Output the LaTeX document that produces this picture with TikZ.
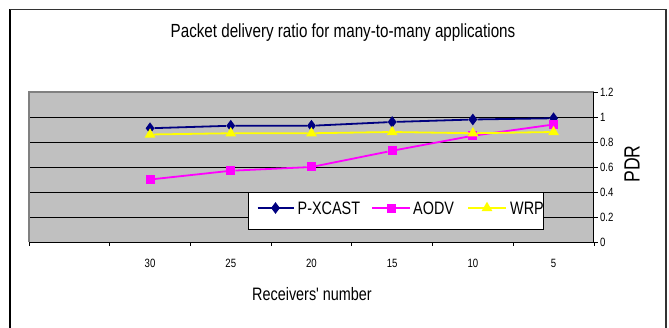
\documentclass[tikz,border=0pt]{standalone}
\usepackage{fontspec}
\setmainfont{Liberation Sans}
\usetikzlibrary{shapes.geometric,positioning}
\definecolor{navy}{RGB}{0,0,128}
\definecolor{pink}{RGB}{255,0,255}
\definecolor{lemon}{RGB}{255,255,0}
\definecolor{plotgray}{RGB}{192,192,192}
\definecolor{edgegray}{RGB}{128,128,128}
\newcommand{\nar}[1]{\scalebox{0.8}[1]{#1}}
\tikzset{
  xcastline/.style={draw=navy, line width=1.8pt},
  aodvline/.style={draw=pink, line width=1.8pt},
  wrpline/.style={draw=lemon, line width=1.8pt},
  xcastmark/.style={diamond, fill=navy, inner sep=0pt, minimum width=9pt, minimum height=12pt},
  aodvmark/.style={rectangle, fill=pink, inner sep=0pt, minimum size=9pt},
  wrpmark/.style={regular polygon, regular polygon sides=3, fill=lemon, inner sep=0pt, minimum size=12.5pt},
  ticklabel/.style={font=\fontsize{12}{14}\selectfont, inner sep=0pt},
  legtext/.style={font=\fontsize{18}{20}\selectfont, inner sep=0pt},
}
\begin{document}
\begin{tikzpicture}[x=1pt, y=1pt]
\useasboundingbox (0,0) rectangle (669,327);
\clip (0,0) rectangle (669,327);
\fill[white] (0,0) rectangle (669,327);

\draw[black, line width=1.2pt] (10,-5) -- (10,317.5) ; % frame left
\draw[edgegray!40!black, line width=1.6pt] (10,317.5) -- (666,317.5) -- (666,-5) ; % frame top, right

\node (title) at (343,294) {\fontsize{19}{22}\selectfont\nar{Packet delivery ratio for many-to-many applications}};

\begin{scope}[shift={(29pt,85pt)}, x=80.7pt, y=125pt]
\fill[plotgray] (0,0) rectangle (7,1.2) ; % plot area
\foreach \v in {0.2,0.4,0.6,0.8,1.0}
  \draw[black, line width=0.8pt] (0,\v) -- (7,\v) ; % grid
\draw[edgegray, line width=1.5pt] (0,0) -- (0,1.2) -- (7,1.2) ;
\draw[black, line width=1pt] (0,0) -- (7,0) ; % x axis
\draw[black, line width=1pt] (7,0) -- (7,1.2) ; % y axis
\foreach \v/\t in {0/0,0.2/0.2,0.4/0.4,0.6/0.6,0.8/0.8,1.0/1,1.2/1.2} {
  \draw[black, line width=0.8pt] (7,\v) -- ++(4pt,0) ;
  \node[ticklabel, anchor=west] at ([xshift=6pt]7,\v) {\nar{\t}} ;
}
\foreach \i in {0,...,7}
  \draw[black, line width=0.8pt] (\i,0) -- ++(0,-4pt) ;
\foreach \x/\t in {1.5/30,2.5/25,3.5/20,4.5/15,5.5/10,6.5/5}
  \node[ticklabel] at ([yshift=-21pt]\x,0) {\nar{\t}} ;

% P-XCAST
\foreach \i/\x/\v in {1/1.5/0.91,2/2.5/0.93,3/3.5/0.93,4/4.5/0.96,5/5.5/0.98,6/6.5/0.99}
  \node[xcastmark] (x\i) at (\x,\v) {} ;
\draw[xcastline] (x1) -- (x2) -- (x3) -- (x4) -- (x5) -- (x6) ;
% AODV
\foreach \i/\x/\v in {1/1.5/0.50,2/2.5/0.57,3/3.5/0.60,4/4.5/0.73,5/5.5/0.85,6/6.5/0.94}
  \node[aodvmark] (a\i) at (\x,\v) {} ;
\draw[aodvline] (a1) -- (a2) -- (a3) -- (a4) -- (a5) -- (a6) ;
% WRP
\foreach \i/\x/\v in {1/1.5/0.86,2/2.5/0.87,3/3.5/0.87,4/4.5/0.88,5/5.5/0.87,6/6.5/0.88}
  \node[wrpmark] (w\i) at (\x,\v) {} ;
\draw[wrpline] (w1) -- (w2) -- (w3) -- (w4) -- (w5) -- (w6) ;
\end{scope}

% legend
\node[draw=black, fill=white, line width=0.8pt, minimum width=295pt, minimum height=37pt, inner sep=0pt] (legend) at (395.5,116.5) {};
\coordinate (lx) at (275.5,119) ;
\coordinate (la) at (391,119) ;
\coordinate (lw) at (487,119) ;
\draw[xcastline] ([xshift=-18pt]lx) -- ([xshift=18pt]lx) ;
\node[xcastmark] at (lx) {} ;
\node[legtext, right=22pt of lx] (lxt) {\nar{P-XCAST}} ;
\draw[aodvline] ([xshift=-19pt]la) -- ([xshift=19pt]la) ;
\node[aodvmark] at (la) {} ;
\node[legtext, right=22pt of la] (lat) {\nar{AODV}} ;
\draw[wrpline] ([xshift=-19pt]lw) -- ([xshift=19pt]lw) ;
\node[wrpmark] at (lw) {} ;
\node[legtext, right=23pt of lw] (lwt) {\nar{WRP}} ;

\node (xlabel) at (312,32.5) {\fontsize{18}{20}\selectfont\nar{Receivers\textquotesingle\ number}};
\node[rotate=90] (ylabel) at (632,163) {\fontsize{22}{24}\selectfont\nar{PDR}};
\end{tikzpicture}
\end{document}
